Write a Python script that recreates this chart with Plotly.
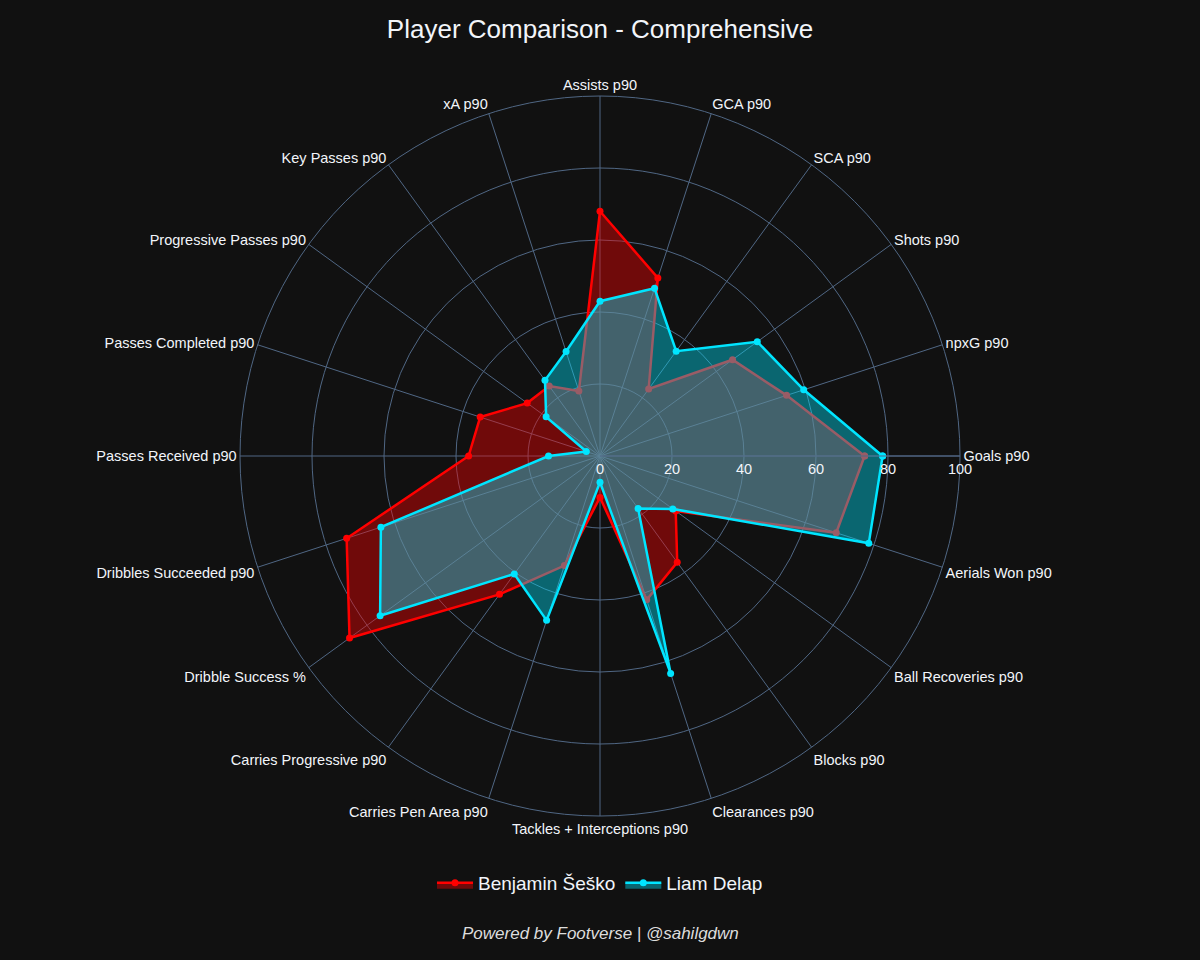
# Player comparison radar chart (Plotly)

import plotly.graph_objects as go

FONT_FAMILY = "Liberation Sans, Arial, sans-serif"

# 지표 목록 (Goals 부터 반시계 방향)
categories = [
    "Goals p90", "npxG p90", "Shots p90", "SCA p90", "GCA p90",
    "Assists p90", "xA p90", "Key Passes p90", "Progressive Passes p90",
    "Passes Completed p90", "Passes Received p90", "Dribbles Succeeded p90",
    "Dribble Success %", "Carries Progressive p90", "Carries Pen Area p90",
    "Tackles + Interceptions p90", "Clearances p90", "Blocks p90",
    "Ball Recoveries p90", "Aerials Won p90",
]

# 퍼센타일 값
sesko_values = [73.5, 54.5, 45.5, 23, 52, 68, 19, 24, 25, 35, 36.5, 74,
                86, 47.5, 32, 11.5, 42, 36.5, 26, 69]
delap_values = [78.5, 59.5, 54, 36, 49, 43, 30.5, 26, 18.5, 4, 14.3, 64,
                75.5, 40.5, 48, 7.3, 63.5, 18, 25, 78.5]

radial_ticks = [0, 20, 40, 60, 80, 100]

players = [
    ("Benjamin Šeško", sesko_values, "#ff0000", "rgba(255,0,0,0.4)"),
    ("Liam Delap", delap_values, "#00e5ff", "rgba(0,229,255,0.4)"),
]

fig = go.Figure()
for name, values, line_color, fill_color in players:
    # 폴리곤을 닫기 위해 첫 점을 다시 추가
    fig.add_trace(go.Scatterpolar(
        r=values + values[:1],
        theta=categories + categories[:1],
        mode="lines+markers",
        fill="toself",
        fillcolor=fill_color,
        name=name,
        line=dict(color=line_color, width=2.5),
        marker=dict(color=line_color, size=7),
    ))

fig.update_layout(
    template="plotly_dark",
    width=1200,
    height=960,
    paper_bgcolor="#111111",
    font=dict(family=FONT_FAMILY, size=14, color="#f2f5fa"),
    title=dict(
        text="Player Comparison - Comprehensive",
        x=0.5,
        xanchor="center",
        y=0.97,
        yanchor="middle",
        font=dict(size=26, family=FONT_FAMILY, color="#f2f5fa"),
    ),
    polar=dict(
        bgcolor="#111111",
        radialaxis=dict(
            range=[0, 100],
            tickvals=radial_ticks,
            angle=0,
            gridcolor="#506784",
            linecolor="#506784",
            tickfont=dict(size=14.5, color="#f2f5fa"),
            showline=True,
        ),
        angularaxis=dict(
            rotation=0,
            direction="counterclockwise",
            gridcolor="#506784",
            linecolor="#506784",
            tickfont=dict(size=14.5, color="#f2f5fa"),
        ),
    ),
    legend=dict(
        orientation="h",
        x=0.5,
        xanchor="center",
        y=-0.093,
        yanchor="middle",
        itemwidth=36,
        font=dict(size=19, family=FONT_FAMILY, color="#f2f5fa"),
        bgcolor="rgba(0,0,0,0)",
    ),
    margin=dict(t=96, b=144, l=80, r=80),
    annotations=[dict(
        text="<i>Powered by Footverse | @sahilgdwn</i>",
        x=0.5,
        y=-0.1625,
        xref="paper",
        yref="paper",
        xanchor="center",
        yanchor="middle",
        showarrow=False,
        font=dict(size=17, family=FONT_FAMILY, color="#dddddd"),
    )],
)

# 브라우저 기본 여백 제거, 모드바 숨김
fig.write_html("out.html", config={"displayModeBar": False},
               post_script="document.body.style.margin='0';")
